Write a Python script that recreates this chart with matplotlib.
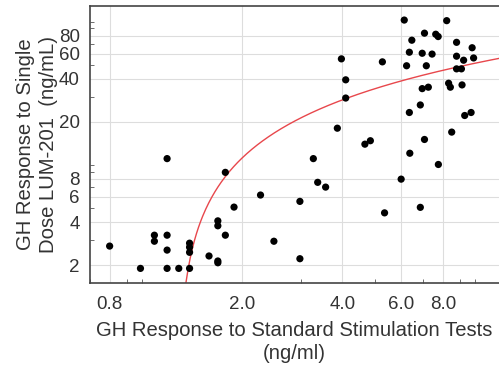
import numpy as np
import matplotlib
matplotlib.use("Agg")
import matplotlib.pyplot as plt
from matplotlib.ticker import FixedLocator, LogLocator, NullFormatter

plt.rcParams['font.family'] = ['Liberation Sans', 'DejaVu Sans']

# GH response to standard stimulation tests (ng/ml)
stim_gh = [0.80, 0.99, 1.09, 1.09, 1.19, 1.19, 1.19, 1.19, 1.29, 1.39,
           1.39, 1.39, 1.39, 1.59, 1.69, 1.69, 1.69, 1.69, 1.78, 1.78,
           1.89, 2.27, 2.49, 2.98, 2.98, 3.27, 3.37, 3.56, 3.86, 3.97,
           4.09, 4.09, 4.67, 4.85, 5.27, 5.35, 6.00, 6.13, 6.23, 6.35,
           6.46, 6.35, 6.37, 6.85, 6.85, 6.94, 6.94, 7.05, 7.05, 7.14,
           7.24, 7.43, 7.62, 7.75, 7.76, 8.22, 8.33, 8.43, 8.51, 8.80,
           8.80, 8.80, 9.10, 9.14, 9.24, 9.31, 9.73, 9.80, 9.90]
# GH response to single dose LUM-201 (ng/mL)
lum_gh = [2.72, 1.90, 3.24, 2.94, 11.1, 3.24, 2.55, 1.90, 1.90, 1.90,
          2.85, 2.67, 2.46, 2.32, 2.14, 2.08, 4.08, 3.77, 8.9, 3.24,
          5.09, 6.18, 2.94, 5.58, 2.22, 11.1, 7.58, 7.02, 18.1, 55.2,
          39.4, 29.4, 14.0, 14.8, 52.6, 4.64, 7.98, 103, 49.4, 61.4,
          74.5, 23.3, 12.1, 26.3, 5.07, 60.4, 34.2, 83.4, 15.1, 49.4,
          35.0, 59.6, 82, 79, 10.1, 102, 37.3, 35.0, 17.0, 72,
          57.6, 47, 47, 36.3, 54, 22.2, 23.3, 66, 56]

# fitted curve: y = fit_a + fit_b * ln(x)
fit_a = -6.1
fit_b = 25.0

x_ticks = [0.8, 2.0, 4.0, 6.0, 8.0]
y_ticks = [2, 4, 6, 8, 20, 40, 60, 80]

fig = plt.figure(figsize=(4.99, 3.72), dpi=100)
ax = fig.add_axes([0.181, 0.239, 0.819, 0.746])

xs = np.logspace(np.log10(0.7), np.log10(12), 400)
ys = fit_a + fit_b * np.log(xs)
ok = ys > 0
ax.plot(xs[ok], ys[ok], color='#e8474c', lw=1.0, zorder=2)

ax.scatter(stim_gh, lum_gh, s=27, color='black', edgecolors='none', zorder=3)

ax.set_xscale('log')
ax.set_yscale('log')
ax.set_xlim(0.7, 11.8)
ax.set_ylim(1.5, 130)

ax.xaxis.set_major_locator(FixedLocator(x_ticks))
ax.xaxis.set_major_formatter(plt.FixedFormatter(['%.1f' % v for v in x_ticks]))
ax.yaxis.set_major_locator(FixedLocator(y_ticks))
ax.yaxis.set_major_formatter(plt.FixedFormatter([str(v) for v in y_ticks]))
ax.xaxis.set_minor_locator(LogLocator(subs=(1.0, 3.0, 5.0, 7.0, 9.0)))
ax.yaxis.set_minor_locator(LogLocator(subs=(1.0, 3.0, 5.0, 7.0, 9.0)))
ax.xaxis.set_minor_formatter(NullFormatter())
ax.yaxis.set_minor_formatter(NullFormatter())

ax.grid(True, which='major', color='#dddddd', lw=0.8)
ax.set_axisbelow(True)
ax.tick_params(which='major', length=0, labelsize=13.5, colors='#333333')
ax.tick_params(axis='x', which='major', pad=9)
ax.tick_params(axis='y', which='major', pad=7.5)
ax.tick_params(which='minor', direction='in', length=3, color='#555555')

for side in ['left', 'bottom', 'top']:
    ax.spines[side].set_color('#444444')
    ax.spines[side].set_linewidth(1.2)
ax.spines['right'].set_visible(False)

ax.set_xlabel('GH Response to Standard Stimulation Tests\n(ng/ml)',
              fontsize=14.6, color='#333333', linespacing=1.3, labelpad=6)
ax.set_ylabel('GH Response to Single\nDose LUM-201  (ng/mL)',
              fontsize=14.6, color='#333333', linespacing=1.25, labelpad=0.5)

fig.savefig('out.png', dpi=100)
